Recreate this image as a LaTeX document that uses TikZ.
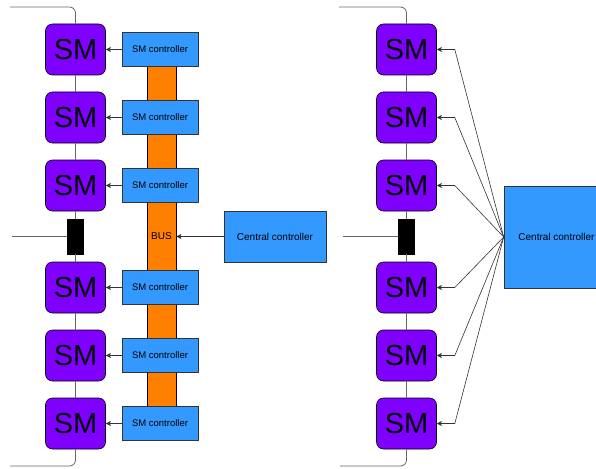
\documentclass[tikz,border=0pt]{standalone}
\usepackage{fontspec}
\setmainfont{Liberation Sans}
\usetikzlibrary{arrows.meta}
\definecolor{smviolet}{HTML}{7F00FF}
\definecolor{ctrlblue}{HTML}{3399FF}
\definecolor{busorange}{HTML}{FF8000}
\definecolor{wirecol}{HTML}{666666}
\definecolor{linkcol}{HTML}{333333}

\begin{document}
\begin{tikzpicture}[x=1pt,y=-1pt,
  sm/.style={draw=black, fill=smviolet, rounded corners=7pt, minimum width=60pt,
    minimum height=51pt, inner sep=0pt, line width=0.6pt,
    font=\fontsize{29}{29}\selectfont},
  ctrl/.style={draw=linkcol, fill=ctrlblue, minimum width=76pt, minimum height=34pt,
    inner sep=0pt, line width=0.6pt, font=\fontsize{9.5}{10}\selectfont},
  central/.style={draw=linkcol, fill=ctrlblue, inner sep=0pt, line width=0.6pt,
    font=\fontsize{10}{11}\selectfont},
  swbox/.style={draw=black, fill=black, minimum width=16pt, minimum height=35pt, inner sep=0pt},
  wire/.style={draw=wirecol, line width=0.8pt, rounded corners=6pt},
  feed/.style={draw=linkcol, line width=0.6pt, -{Stealth[length=5pt,width=5pt,inset=1pt]}},
]
\useasboundingbox (0,0) rectangle (596,468);
\clip (0,0) rectangle (596,468);

% ---------- left: controllers on a shared bus ----------
\node[draw=black, fill=busorange, minimum width=29pt, minimum height=375pt,
  inner sep=0pt, line width=0.6pt, font=\fontsize{10}{11}\selectfont] (bus) at (161.5,236.5) {BUS};

\node[sm] (lsm1) at (75.5,49.5) {SM};
\node[sm] (lsm2) at (75.5,117.5) {SM};
\node[sm] (lsm3) at (75.5,185.5) {SM};
\node[swbox] (lsw) at (75.5,236.5) {};
\node[sm] (lsm4) at (75.5,287.5) {SM};
\node[sm] (lsm5) at (75.5,355.5) {SM};
\node[sm] (lsm6) at (75.5,423.5) {SM};

\node[ctrl] (lc1) at (160,49.5) {SM controller};
\node[ctrl] (lc2) at (160,117.5) {SM controller};
\node[ctrl] (lc3) at (160,185.5) {SM controller};
\node[ctrl] (lc4) at (160,287.5) {SM controller};
\node[ctrl] (lc5) at (160,355.5) {SM controller};
\node[ctrl] (lc6) at (160,423.5) {SM controller};

\node[central, minimum width=102pt, minimum height=51pt] (lcc) at (275,236.5) {Central controller};

\coordinate (ltop) at (10,7);
\coordinate (lbot) at (10,466);
\coordinate (lin) at (12,236.5);
\draw[wire] (ltop) -- (lsm1.north |- ltop) -- (lsm1.north);
\draw[wire] (lsm1) -- (lsm2);
\draw[wire] (lsm2) -- (lsm3);
\draw[wire] (lsm3) -- (lsw);
\draw[wire] (lsw) -- (lsm4);
\draw[wire] (lsm4) -- (lsm5);
\draw[wire] (lsm5) -- (lsm6);
\draw[wire] (lsm6.south) -- (lsm6.south |- lbot) -- (lbot);
\draw[wire] (lin) -- (lsw.west);
\foreach \i in {1,...,6} {\draw[feed] (lc\i.west) -- (lsm\i.east);}
\draw[feed] (lcc.west) -- (bus.east);

% ---------- right: one central controller drives every module ----------
\node[sm] (rsm1) at (406.5,49.5) {SM};
\node[sm] (rsm2) at (406.5,117.5) {SM};
\node[sm] (rsm3) at (406.5,185.5) {SM};
\node[swbox] (rsw) at (406.5,236.5) {};
\node[sm] (rsm4) at (406.5,287.5) {SM};
\node[sm] (rsm5) at (406.5,355.5) {SM};
\node[sm] (rsm6) at (406.5,423.5) {SM};

\node[central, minimum width=105pt, minimum height=102pt] (rcc) at (556.5,237) {Central controller};

\coordinate (rtop) at (339,7);
\coordinate (rbot) at (340,466);
\coordinate (rin) at (343,236.5);
\draw[wire] (rtop) -- (rsm1.north |- rtop) -- (rsm1.north);
\draw[wire] (rsm1) -- (rsm2);
\draw[wire] (rsm2) -- (rsm3);
\draw[wire] (rsm3) -- (rsw);
\draw[wire] (rsw) -- (rsm4);
\draw[wire] (rsm4) -- (rsm5);
\draw[wire] (rsm5) -- (rsm6);
\draw[wire] (rsm6.south) -- (rsm6.south |- rbot) -- (rbot);
\draw[wire] (rin) -- (rsw.west);
\foreach \i in {1,...,6} {\draw[feed] (rcc.west) -- ([xshift=18pt]rsm\i.east) -- (rsm\i.east);}
\end{tikzpicture}
\end{document}
